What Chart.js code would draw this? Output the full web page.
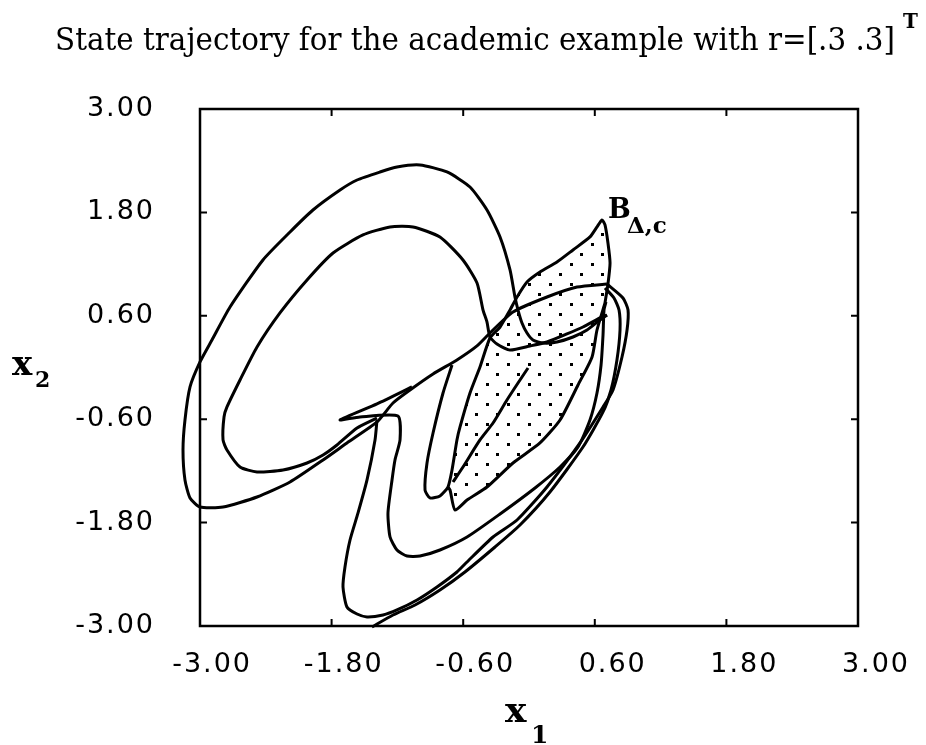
<!DOCTYPE html>
<html>
<head>
<meta charset="utf-8">
<script src="https://cdn.jsdelivr.net/npm/chart.js@4.4.0/dist/chart.umd.min.js"></script>
<style>
  html, body { margin: 0; padding: 0; background: #fff; }
  #plot { display: block; }
</style>
</head>
<body>
<canvas id="plot" width="926" height="745"></canvas>
<script>
// axis ticks and their printed labels
const X_TICKS = [-3, -1.8, -0.6, 0.6, 1.8, 3];
const Y_TICKS = [-3, -1.8, -0.6, 0.6, 1.8, 3];
const X_LABELS = ['-3.00', '-1.80', '-0.60', '0.60', '1.80', '3.00'];
const Y_LABELS = ['-3.00', '-1.80', '-0.60', '0.60', '1.80', '3.00'];

const TITLE = 'State trajectory for the academic example with r=[.3 .3]';

// trajectory pieces, (x1, x2) state values
const outerX = [0.711, 0.438, 0.164, -0.146, -0.356, -0.474, -0.657, -0.875, -1.085, -1.240, -1.386, -1.660, -1.878, -2.179, -2.480, -2.790, -3.000, -3.091, -3.137, -3.155, -3.137, -3.091, -3.000, -2.891, -2.726, -2.426, -2.179, -1.970, -1.723, -1.568, -1.359, -1.204, -0.994, -0.748, -0.538, -0.383, -0.264, -0.173, -0.128, -0.100, -0.064, -0.018, 0.036, 0.128, 0.255, 0.401, 0.529, 0.647, 0.711];
const outerY = [0.969, 0.934, 0.818, 0.644, 0.400, 0.250, 0.087, -0.075, -0.261, -0.412, -0.632, -0.876, -1.073, -1.329, -1.503, -1.619, -1.619, -1.514, -1.305, -0.957, -0.609, -0.226, 0.064, 0.319, 0.702, 1.248, 1.573, 1.828, 2.060, 2.176, 2.269, 2.327, 2.350, 2.269, 2.095, 1.828, 1.515, 1.132, 0.818, 0.667, 0.517, 0.400, 0.319, 0.284, 0.296, 0.354, 0.435, 0.551, 0.609];

const innerX = [-1.386, -1.568, -1.751, -1.878, -2.024, -2.243, -2.480, -2.635, -2.754, -2.790, -2.781, -2.754, -2.635, -2.480, -2.271, -2.024, -1.787, -1.514, -1.267, -1.058, -0.812, -0.602, -0.474, -0.419, -0.383, -0.356, -0.292, -0.173, 0.009, 0.164, 0.346, 0.492, 0.647, 0.711];
const innerY = [-0.586, -0.702, -0.899, -1.015, -1.108, -1.189, -1.213, -1.155, -0.957, -0.841, -0.574, -0.458, -0.145, 0.238, 0.633, 1.016, 1.329, 1.538, 1.631, 1.631, 1.515, 1.248, 0.981, 0.667, 0.528, 0.354, 0.273, 0.203, 0.250, 0.296, 0.389, 0.470, 0.575, 0.609];

const kinkX = [-1.067, -1.386, -1.723, -1.541, -1.195, -1.176, -1.222, -1.249, -1.286, -1.267, -1.204, -1.112, -0.994, -0.812, -0.565, -0.264, 0.055, 0.283, 0.447, 0.556, 0.620, 0.657, 0.675, 0.684, 0.702];
const kinkY = [-0.226, -0.423, -0.609, -0.574, -0.563, -0.841, -1.073, -1.305, -1.688, -1.967, -2.118, -2.188, -2.188, -2.118, -1.967, -1.700, -1.398, -1.155, -0.923, -0.609, -0.296, 0.029, 0.377, 0.667, 0.760];

const wideX = [-1.386, -1.404, -1.477, -1.559, -1.632, -1.678, -1.696, -1.660, -1.568, -1.477, -1.331, -1.204, -1.021, -0.839, -0.657, -0.565, -0.328, -0.109, 0.164, 0.465, 0.675, 0.766, 0.848, 0.894, 0.903, 0.857, 0.711];
const wideY = [-0.609, -0.841, -1.305, -1.688, -2.002, -2.315, -2.547, -2.779, -2.861, -2.895, -2.872, -2.814, -2.698, -2.547, -2.373, -2.257, -1.967, -1.770, -1.387, -0.876, -0.458, -0.261, 0.122, 0.435, 0.667, 0.807, 0.969];

const lowX = [-1.432, -1.240, -1.039, -0.812, -0.584, -0.310, -0.082, 0.191, 0.492, 0.675, 0.748, 0.802, 0.830, 0.821, 0.775, 0.693];
const lowY = [-3.011, -2.872, -2.756, -2.582, -2.373, -2.083, -1.828, -1.445, -0.923, -0.516, -0.261, 0.087, 0.435, 0.667, 0.807, 0.923];

const edgeX = [-0.702, -0.784, -0.875, -0.930, -0.948, -0.903, -0.812, -0.739, -0.702, -0.657, -0.629, -0.538, -0.447, -0.356, -0.264, -0.173, -0.109, -0.018, 0.100, 0.255, 0.401, 0.556, 0.620, 0.666, 0.693, 0.720, 0.739, 0.720, 0.693];
const edgeY = [0.029, -0.296, -0.760, -1.108, -1.422, -1.514, -1.491, -1.387, -1.189, -0.841, -0.690, -0.296, 0.006, 0.342, 0.470, 0.667, 0.818, 0.992, 1.108, 1.224, 1.364, 1.515, 1.631, 1.712, 1.654, 1.445, 1.213, 0.969, 0.749];

const rightX = [0.693, 0.620, 0.575, 0.447, 0.283, 0.100, -0.146, -0.383, -0.565, -0.675, -0.720, -0.739];
const rightY = [0.749, 0.435, 0.122, -0.203, -0.609, -0.876, -1.108, -1.387, -1.538, -1.654, -1.422, -1.387];

const midX = [-0.009, -0.082, -0.201, -0.328, -0.447, -0.602, -0.693];
const midY = [-0.006, -0.145, -0.377, -0.644, -0.841, -1.155, -1.329];

// dotted set B
const regionX = [-0.356, -0.264, -0.173, -0.109, -0.018, 0.100, 0.255, 0.401, 0.556, 0.620, 0.666, 0.693, 0.720, 0.739, 0.720, 0.693, 0.620, 0.575, 0.447, 0.283, 0.100, -0.146, -0.383, -0.565, -0.675, -0.720, -0.702, -0.657, -0.629, -0.538, -0.447, -0.356];
const regionY = [0.342, 0.470, 0.667, 0.818, 0.992, 1.108, 1.224, 1.364, 1.515, 1.631, 1.712, 1.654, 1.445, 1.213, 0.969, 0.749, 0.435, 0.122, -0.203, -0.609, -0.876, -1.108, -1.387, -1.538, -1.654, -1.422, -1.189, -0.841, -0.690, -0.296, 0.006, 0.342];

const pieces = [
  [outerX, outerY], [innerX, innerY], [kinkX, kinkY], [wideX, wideY],
  [lowX, lowY], [edgeX, edgeY], [rightX, rightY], [midX, midY]
];

function pts(xs, ys) {
  return xs.map((x, i) => ({ x: x, y: ys[i] }));
}

// staggered dot texture for the set
function dotPattern(ctx) {
  const c = document.createElement('canvas');
  c.width = 21;
  c.height = 20;
  const g = c.getContext('2d');
  g.fillStyle = '#000';
  g.fillRect(3, 3, 3, 3);
  g.fillRect(13, 13, 3, 3);
  return ctx.createPattern(c, 'repeat');
}

const framePlugin = {
  id: 'frame',
  beforeDraw(chart) {
    chart.ctx.letterSpacing = '2px';
  },
  afterDraw(chart) {
    const { ctx, chartArea: a, scales: { x, y } } = chart;
    ctx.save();
    ctx.letterSpacing = '0px';
    ctx.strokeStyle = '#000';
    ctx.fillStyle = '#000';

    // box with inward ticks on every side
    ctx.lineWidth = 2.5;
    ctx.strokeRect(a.left, a.top, a.right - a.left, a.bottom - a.top);
    ctx.lineWidth = 2;
    ctx.beginPath();
    X_TICKS.slice(1, -1).forEach(v => {
      const p = x.getPixelForValue(v);
      ctx.moveTo(p, a.bottom); ctx.lineTo(p, a.bottom - 7);
      ctx.moveTo(p, a.top); ctx.lineTo(p, a.top + 7);
    });
    Y_TICKS.slice(1, -1).forEach(v => {
      const p = y.getPixelForValue(v);
      ctx.moveTo(a.left, p); ctx.lineTo(a.left + 7, p);
      ctx.moveTo(a.right, p); ctx.lineTo(a.right - 7, p);
    });
    ctx.stroke();

    // title, squeezed to the width of the heading
    ctx.textAlign = 'left';
    ctx.textBaseline = 'alphabetic';
    ctx.font = '32px "DejaVu Serif"';
    const w = ctx.measureText(TITLE).width;
    const span = 840;
    ctx.save();
    ctx.translate(55, 50);
    ctx.scale(span / w, 1);
    ctx.fillText(TITLE, 0, 0);
    ctx.restore();
    ctx.font = 'bold 20px "DejaVu Serif"';
    ctx.fillText('T', 55 + span + 8, 28);

    // axis names
    ctx.font = 'bold 34px "DejaVu Serif"';
    ctx.fillText('x', 12, 375);
    ctx.font = 'bold 22px "DejaVu Serif"';
    ctx.fillText('2', 35, 387);

    const cx = (a.left + a.right) / 2;
    ctx.font = 'bold 36px "DejaVu Serif"';
    ctx.fillText('x', cx - 24, 722);
    ctx.font = 'bold 25px "DejaVu Serif"';
    ctx.fillText('1', cx + 2, 743);

    // set label
    const bx = x.getPixelForValue(0.72);
    const by = y.getPixelForValue(1.735);
    ctx.font = 'bold 27px "DejaVu Serif"';
    ctx.fillText('B', bx, by);
    ctx.font = 'bold 23px "DejaVu Serif"';
    ctx.fillText('\u0394,c', bx + 19, by + 15);
    ctx.restore();
  }
};

const strokeSets = pieces.map(p => ({
  data: pts(p[0], p[1]),
  showLine: true,
  borderColor: '#000',
  borderWidth: 3,
  pointRadius: 0,
  tension: 0.2,
  fill: false,
  clip: false
}));

const canvas = document.getElementById('plot');

new Chart(canvas, {
  type: 'scatter',
  data: {
    datasets: [{
      data: pts(regionX, regionY),
      showLine: true,
      borderWidth: 0,
      borderColor: 'rgba(0,0,0,0)',
      backgroundColor: dotPattern(canvas.getContext('2d')),
      fill: 'shape',
      pointRadius: 0,
      tension: 0
    }].concat(strokeSets)
  },
  options: {
    responsive: false,
    animation: false,
    devicePixelRatio: 1,
    events: [],
    layout: { padding: { top: 109, right: 68, left: 0, bottom: 0 } },
    elements: { line: { capBezierPoints: false } },
    plugins: { legend: { display: false }, tooltip: { enabled: false } },
    scales: {
      x: {
        type: 'linear',
        min: -3,
        max: 3,
        grid: { display: false, drawTicks: false },
        border: { display: false },
        afterBuildTicks: s => { s.ticks = X_TICKS.map(v => ({ value: v })); },
        afterFit: s => { s.height = 119; },
        ticks: {
          color: '#000',
          font: { family: 'DejaVu Sans', size: 27 },
          padding: 23,
          align: 'end',
          labelOffset: 52,
          maxRotation: 0,
          autoSkip: false,
          callback: (v, i) => X_LABELS[i]
        }
      },
      y: {
        type: 'linear',
        min: -3,
        max: 3,
        grid: { display: false, drawTicks: false },
        border: { display: false },
        afterBuildTicks: s => { s.ticks = Y_TICKS.map(v => ({ value: v })); },
        afterFit: s => { s.width = 200; },
        ticks: {
          color: '#000',
          font: { family: 'DejaVu Sans', size: 27 },
          padding: 45,
          autoSkip: false,
          callback: (v, i) => Y_LABELS[i]
        }
      }
    }
  },
  plugins: [framePlugin]
});
</script>
</body>
</html>
